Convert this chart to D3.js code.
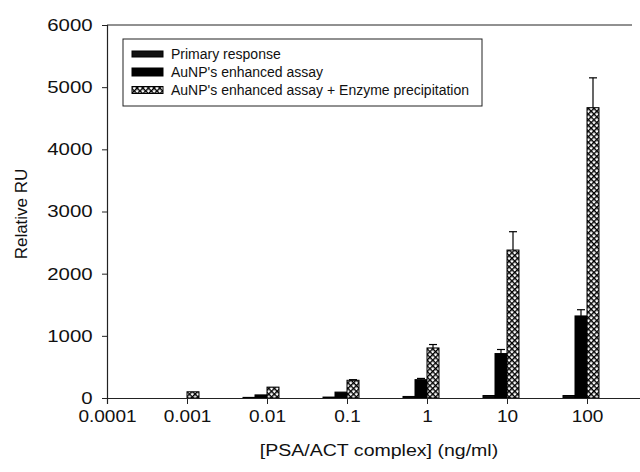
<!DOCTYPE html>
<html>
<head>
<meta charset="utf-8">
<script src="https://cdn.jsdelivr.net/npm/d3@7"></script>
<style>
    html, body { margin: 0; padding: 0; background: #fff; }
    svg { display: block; font-family: "Liberation Sans", Arial, sans-serif; }
</style>
</head>
<body>
<div id="chart"></div>
<script>
const WIDTH = 640;
const HEIGHT = 472;

// concentrations (ng/ml)
const concentrations = [0.0001, 0.001, 0.01, 0.1, 1, 10, 100];
const tickLabels = ['0.0001', '0.001', '0.01', '0.1', '1', '10', '100'];
const seriesNames = [
    'Primary response',
    "AuNP's enhanced assay",
    "AuNP's enhanced assay + Enzyme precipitation"
];

const primaryValues = [0, 0, 10, 15, 25, 40, 40];
const primaryErrors = [0, 0, 0, 0, 0, 0, 0];
const aunpValues = [0, 0, 50, 95, 295, 715, 1320];
const aunpErrors = [0, 0, 0, 0, 20, 65, 100];
const enzymeValues = [0, 100, 175, 285, 805, 2380, 4670];
const enzymeErrors = [0, 0, 0, 10, 55, 295, 480];

const yTicks = [0, 1000, 2000, 3000, 4000, 5000, 6000];

const svg = d3.select('#chart')
    .append('svg')
    .attr('width', WIDTH)
    .attr('height', HEIGHT);

const x = d3.scaleLog().domain([0.0001, 1000]).range([107, 667]);
const y = d3.scaleLinear().domain([0, 6000]).range([398, 25]);
const sub = d3.scaleBand().domain([0, 1, 2]).range([-24, 12]).padding(0);

function addHatchPattern(defs) {
    const pat = defs.append('pattern')
        .attr('id', 'crosshatch')
        .attr('patternUnits', 'userSpaceOnUse')
        .attr('width', 4)
        .attr('height', 4)
        .attr('patternTransform', 'rotate(45)');
    pat.append('rect').attr('width', 4).attr('height', 4).attr('fill', '#fff');
    pat.append('line').attr('x1', 0).attr('y1', 0).attr('x2', 0).attr('y2', 4)
        .attr('stroke', '#000').attr('stroke-width', 2.8);
    pat.append('line').attr('x1', 0).attr('y1', 0).attr('x2', 4).attr('y2', 0)
        .attr('stroke', '#000').attr('stroke-width', 2.8);
}

const defs = svg.append('defs');
addHatchPattern(defs);

const fills = ['#111', '#000', 'url(#crosshatch)'];

const series = [
    { values: primaryValues, errors: primaryErrors },
    { values: aunpValues, errors: aunpErrors },
    { values: enzymeValues, errors: enzymeErrors }
];

// top frame line
svg.append('line')
    .attr('x1', x(0.0001)).attr('x2', 632)
    .attr('y1', y(6000)).attr('y2', y(6000))
    .attr('stroke', '#222').attr('stroke-width', 1);

// bars + error bars
series.forEach((s, si) => {
    const rows = concentrations.map((c, i) => ({ c, v: s.values[i], e: s.errors[i] }));
    const g = svg.append('g');
    const cx = d => x(d.c) + sub(si) + sub.bandwidth() / 2;

    g.selectAll('rect')
        .data(rows.filter(d => d.v > 0))
        .join('rect')
        .attr('x', d => x(d.c) + sub(si))
        .attr('y', d => y(d.v))
        .attr('width', sub.bandwidth())
        .attr('height', d => y(0) - y(d.v))
        .attr('fill', fills[si])
        .attr('stroke', '#000')
        .attr('stroke-width', 1);

    const err = g.selectAll('g.err')
        .data(rows.filter(d => d.e > 0))
        .join('g')
        .attr('class', 'err');
    err.append('line')
        .attr('x1', cx).attr('x2', cx)
        .attr('y1', d => y(d.v))
        .attr('y2', d => y(d.v + d.e))
        .attr('stroke', '#000').attr('stroke-width', 1.2);
    err.append('line')
        .attr('x1', d => cx(d) - 4)
        .attr('x2', d => cx(d) + 4)
        .attr('y1', d => y(d.v + d.e))
        .attr('y2', d => y(d.v + d.e))
        .attr('stroke', '#000').attr('stroke-width', 1.2);
});

// y axis
const yAxis = svg.append('g')
    .attr('transform', `translate(${x(0.0001)},0)`)
    .call(d3.axisLeft(y).tickValues(yTicks).tickSize(5).tickFormat(d3.format('d')));
yAxis.select('.domain').attr('stroke', '#222').attr('stroke-width', 1.2);
yAxis.selectAll('.tick line').attr('stroke', '#222');
yAxis.selectAll('text')
    .attr('x', -12)
    .attr('transform', 'scale(1.2,1)')
    .attr('font-size', 17).attr('fill', '#111');

// x axis
const xAxis = svg.append('g')
    .attr('transform', `translate(0,${y(0)})`)
    .call(d3.axisBottom(x).tickValues(concentrations).tickSize(6).tickPadding(6)
        .tickFormat((d, i) => tickLabels[i]));
xAxis.select('.domain').attr('stroke', '#222').attr('stroke-width', 1.2);
xAxis.selectAll('.tick line').attr('stroke', '#222');
xAxis.selectAll('text')
    .attr('transform', 'scale(1.12,1)')
    .attr('font-size', 17).attr('fill', '#111');

// axis titles
svg.append('text')
    .attr('transform', 'translate(379,456) scale(1.15,1)')
    .attr('text-anchor', 'middle')
    .attr('font-size', 17).attr('fill', '#111')
    .text('[PSA/ACT complex] (ng/ml)');

svg.append('text')
    .attr('transform', 'translate(27,214) rotate(-90)')
    .attr('text-anchor', 'middle')
    .attr('font-size', 17).attr('fill', '#111')
    .text('Relative RU');

// legend
const legend = svg.append('g').attr('transform', 'translate(123,39)');
legend.append('rect')
    .attr('width', 359).attr('height', 67)
    .attr('fill', '#fff').attr('stroke', '#222').attr('stroke-width', 1);
const swatchH = [6, 8, 7];
seriesNames.forEach((name, i) => {
    const row = legend.append('g').attr('transform', `translate(0,${15 + i * 18})`);
    row.append('rect')
        .attr('x', 9).attr('y', -swatchH[i] / 2)
        .attr('width', 31).attr('height', swatchH[i])
        .attr('fill', fills[i]).attr('stroke', '#000').attr('stroke-width', 1);
    row.append('text')
        .attr('x', 48).attr('dy', '0.35em')
        .attr('font-size', 14).attr('fill', '#111')
        .text(name);
});
</script>
</body>
</html>
